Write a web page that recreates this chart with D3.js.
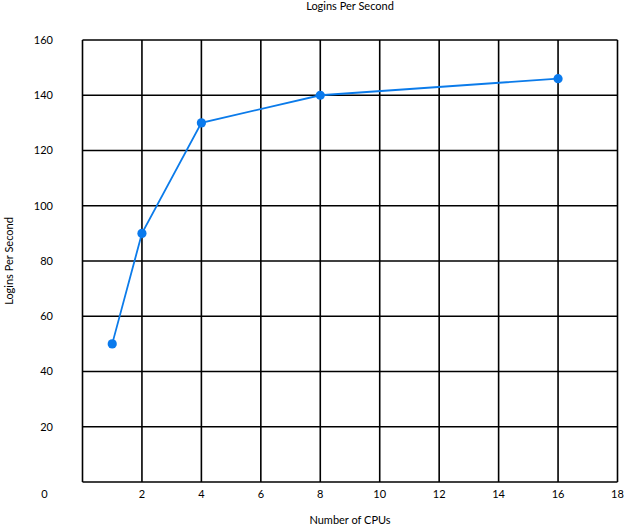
<!DOCTYPE html>
<html><head><meta charset="utf-8">
<script src="https://cdn.jsdelivr.net/npm/d3@7"></script>
<style>
html,body{margin:0;padding:0;background:#fff;}
text{font-family:Lato,"Open Sans",sans-serif;fill:#000;}
</style></head>
<body>
<svg id="chart" width="625" height="528"></svg>
<script>
const cpus = [1, 2, 4, 8, 16];
const logins = [50, 90, 130, 140, 146];
const xTicks = [2, 4, 6, 8, 10, 12, 14, 16, 18];
const yTicks = [20, 40, 60, 80, 100, 120, 140, 160];
const title = "Logins Per Second";
const xTitle = "Number of CPUs";
const yTitle = "Logins Per Second";

const svg = d3.select("#chart");
const m = {left: 82.5, right: 617.5, top: 40, bottom: 482};
const x = d3.scaleLinear().domain([0, 18]).range([m.left, m.right]);
const y = d3.scaleLinear().domain([0, 160]).range([m.bottom, m.top]);

// grid
const g = svg.append("g");
g.selectAll("line.v").data(d3.range(0, 19, 2)).enter().append("line")
  .attr("x1", d => x(d)).attr("x2", d => x(d))
  .attr("y1", y(0)).attr("y2", y(160))
  .attr("stroke", "#000").attr("stroke-width", 1.6);
g.selectAll("line.h").data(d3.range(0, 161, 20)).enter().append("line")
  .attr("y1", d => y(d)).attr("y2", d => y(d))
  .attr("x1", x(0)).attr("x2", x(18))
  .attr("stroke", "#000").attr("stroke-width", 1.6);

// y tick labels
svg.append("g").selectAll("text").data(yTicks).enter().append("text")
  .attr("x", 53).attr("y", d => y(d)).attr("dy", "0.35em")
  .attr("text-anchor", "end").attr("font-size", 11).text(d => d);

// x tick labels
const xLabY = 494;
svg.append("g").selectAll("text").data(xTicks).enter().append("text")
  .attr("x", d => x(d)).attr("y", xLabY).attr("dy", "0.35em")
  .attr("text-anchor", "middle").attr("font-size", 11).text(d => d);
svg.append("text").attr("x", 44.5).attr("y", xLabY).attr("dy", "0.35em")
  .attr("text-anchor", "middle").attr("font-size", 11).text("0");

// titles
svg.append("text").attr("x", (m.left + m.right) / 2).attr("y", 6).attr("dy", "0.35em")
  .attr("text-anchor", "middle").attr("font-size", 11).text(title);
svg.append("text").attr("x", (m.left + m.right) / 2).attr("y", 520).attr("dy", "0.35em")
  .attr("text-anchor", "middle").attr("font-size", 11).text(xTitle);
svg.append("text").attr("transform", `translate(9,${(m.top + m.bottom) / 2}) rotate(-90)`)
  .attr("dy", "0.35em").attr("text-anchor", "middle").attr("font-size", 11).text(yTitle);

// series
const data = cpus.map((c, i) => ({c, v: logins[i]}));
svg.append("path").datum(data)
  .attr("fill", "none").attr("stroke", "#0B7BEA").attr("stroke-width", 1.8)
  .attr("d", d3.line().x(d => x(d.c)).y(d => y(d.v)));
svg.append("g").selectAll("circle").data(data).enter().append("circle")
  .attr("cx", d => x(d.c)).attr("cy", d => y(d.v)).attr("r", 4.6)
  .attr("fill", "#0A7AED");
</script>
</body></html>
